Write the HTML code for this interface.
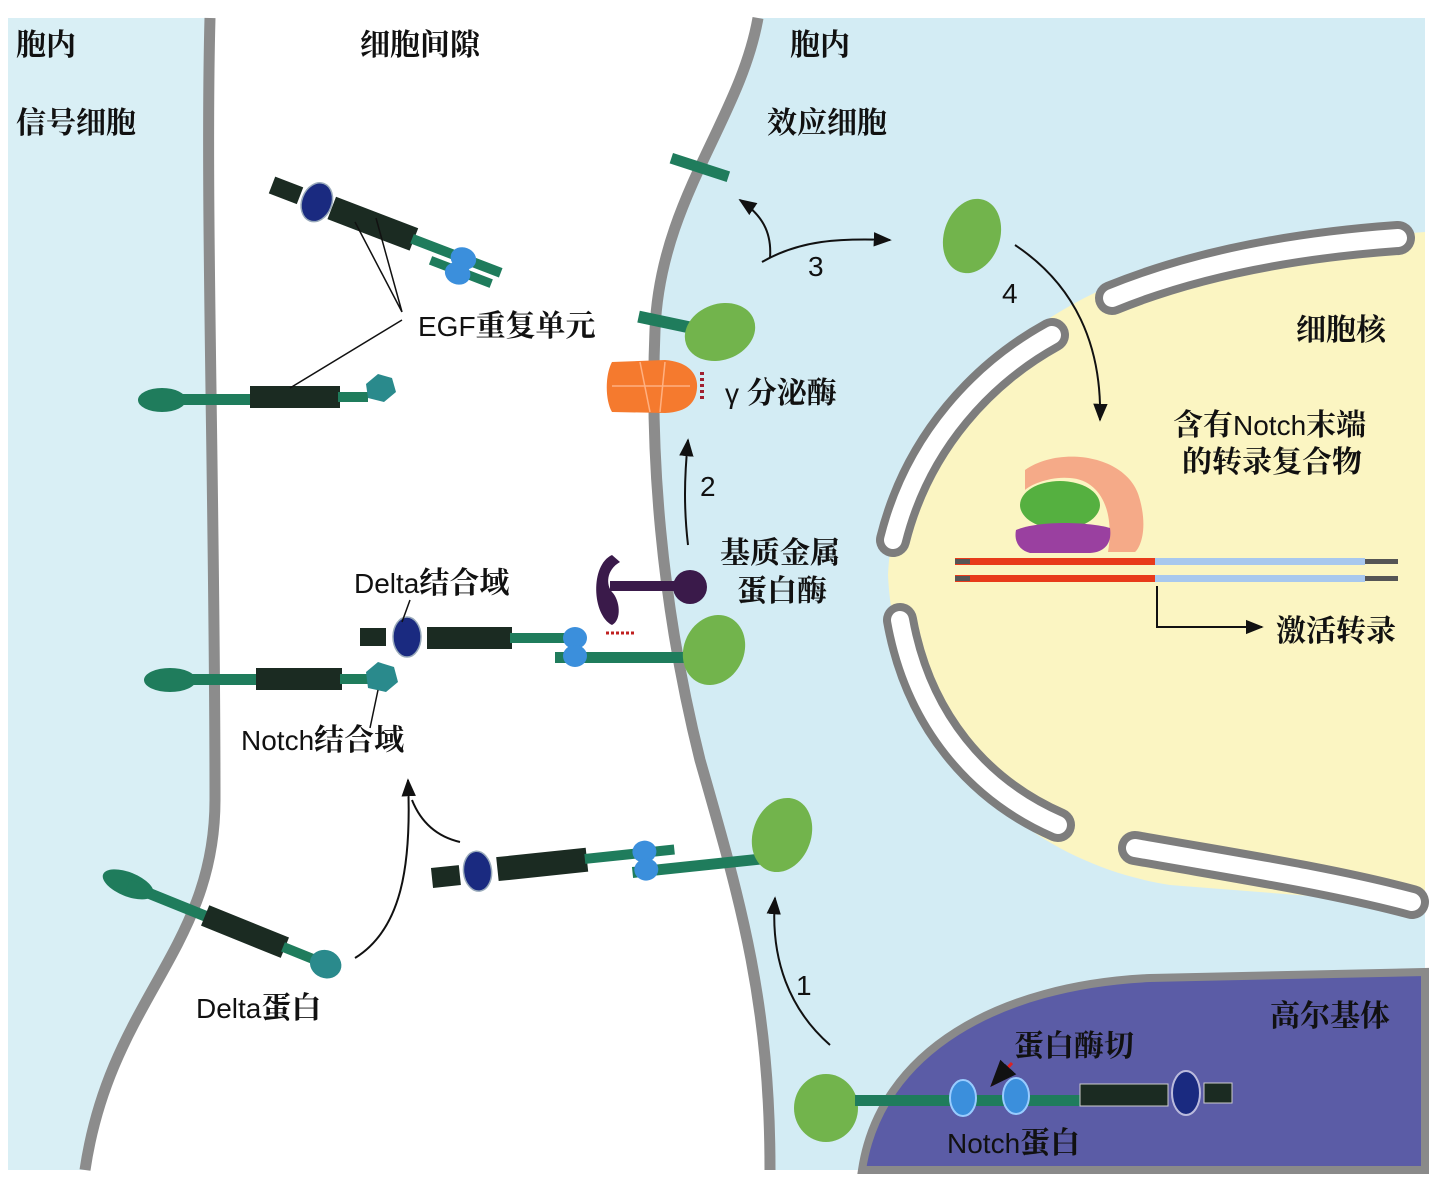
<!DOCTYPE html>
<html><head><meta charset="utf-8"><style>
body{margin:0;background:#fff}
svg{display:block}
text{font-family:"Liberation Sans","Noto Sans CJK SC",sans-serif;font-size:28px;fill:#111}
.cn{font-family:"Liberation Sans","Noto Serif CJK SC",serif;font-weight:bold;font-size:30px}
</style></head><body>
<svg width="1442" height="1201" viewBox="0 0 1442 1201">
<defs>
<marker id="ah" viewBox="0 0 10 10" refX="9" refY="5" markerWidth="9" markerHeight="9" orient="auto"><path d="M0,1 L10,5 L0,9 Z" fill="#111"/></marker>
</defs>
<path d="M8,18 L210,18 C205,200 215,500 215,800 C215,950 110,1000 85,1170 L8,1170 Z" fill="#d9eff5"/>
<path d="M758,18 C740,120 660,200 655,330 C650,450 660,600 700,760 C740,900 770,1000 770,1170 L1425,1170 L1425,18 Z" fill="#d3ecf4"/>
<path d="M1425,232 L1250,245 C1030,280 895,420 888,575 C895,730 1010,860 1170,885 L1425,905 Z" fill="#fbf5c2"/>
<path d="M862,1170 C880,1050 1000,985 1150,978 L1425,972 L1425,1170 Z" fill="#5b5ca6" stroke="#8a8a8a" stroke-width="8"/>
<path d="M210,18 C205,200 215,500 215,800 C215,950 110,1000 85,1170" fill="none" stroke="#8c8c8c" stroke-width="11"/>
<path d="M758,18 C740,120 660,200 655,330 C650,450 660,600 700,760 C740,900 770,1000 770,1170" fill="none" stroke="#8c8c8c" stroke-width="11"/>
<g fill="none" stroke-linecap="round">
<path d="M1112,298 C1200,262 1300,245 1398,238" stroke="#7d7d7d" stroke-width="34"/>
<path d="M1112,298 C1200,262 1300,245 1398,238" stroke="#fff" stroke-width="18"/>
<path d="M1052,335 C985,372 918,440 893,540" stroke="#7d7d7d" stroke-width="34"/>
<path d="M1052,335 C985,372 918,440 893,540" stroke="#fff" stroke-width="18"/>
<path d="M900,620 C918,720 978,790 1058,825" stroke="#7d7d7d" stroke-width="34"/>
<path d="M900,620 C918,720 978,790 1058,825" stroke="#fff" stroke-width="18"/>
<path d="M1135,848 C1230,865 1330,880 1412,902" stroke="#7d7d7d" stroke-width="34"/>
<path d="M1135,848 C1230,865 1330,880 1412,902" stroke="#fff" stroke-width="18"/>
</g>
<g transform="translate(272,185) rotate(21)">
<rect x="0" y="-9" width="30" height="18" fill="#1b2b22"/>
<ellipse cx="48" cy="0" rx="15" ry="20" fill="#1a2a80" stroke="#9ab" stroke-width="1.5"/>
<rect x="64" y="-12" width="88" height="24" fill="#1b2b22"/>
<rect x="150" y="-5" width="95" height="10" fill="#1f7c5c"/>
<rect x="175" y="9" width="65" height="9" fill="#1f7c5c"/>
<ellipse cx="205" cy="0" rx="13" ry="11" fill="#3b8fdc"/><ellipse cx="205" cy="16" rx="13" ry="11" fill="#3b8fdc"/>
</g>
<g>
<ellipse cx="162" cy="400" rx="24" ry="12" fill="#1f7c5c"/>
<rect x="160" y="394" width="95" height="11" fill="#1f7c5c"/>
<rect x="250" y="386" width="90" height="22" fill="#1b2b22"/>
<rect x="338" y="392" width="30" height="10" fill="#1f7c5c"/>
<polygon points="366,384 378,374 392,378 396,392 384,402 368,398" fill="#2a8a8c"/>
</g>
<g>
<ellipse cx="170" cy="680" rx="26" ry="12" fill="#1f7c5c"/>
<rect x="170" y="674" width="90" height="11" fill="#1f7c5c"/>
<rect x="256" y="668" width="86" height="22" fill="#1b2b22"/>
<rect x="340" y="674" width="30" height="10" fill="#1f7c5c"/>
<polygon points="366,672 378,662 394,667 398,682 386,692 368,688" fill="#2a8a8c"/>
</g>
<g>
<rect x="360" y="628" width="26" height="18" fill="#1b2b22"/>
<ellipse cx="407" cy="637" rx="14" ry="20" fill="#1a2a80" stroke="#9ab" stroke-width="1.5"/>
<rect x="427" y="627" width="85" height="22" fill="#1b2b22"/>
<rect x="510" y="633" width="70" height="10" fill="#1f7c5c"/>
<rect x="555" y="652" width="135" height="11" fill="#1f7c5c"/>
<ellipse cx="575" cy="638" rx="12" ry="11" fill="#3b8fdc"/><ellipse cx="575" cy="656" rx="12" ry="11" fill="#3b8fdc"/>
<ellipse cx="714" cy="650" rx="30" ry="36" transform="rotate(25 714 650)" fill="#72b44c"/>
</g>
<g transform="translate(105,875) rotate(22)">
<ellipse cx="25" cy="0" rx="27" ry="12" fill="#1f7c5c"/>
<rect x="25" y="-5" width="85" height="11" fill="#1f7c5c"/>
<rect x="108" y="-11" width="86" height="22" fill="#1b2b22"/>
<rect x="192" y="-5" width="35" height="10" fill="#1f7c5c"/>
<ellipse cx="238" cy="0" rx="16" ry="14" fill="#2a8a8c"/>
</g>
<g transform="translate(432,878) rotate(-6)">
<rect x="0" y="-10" width="28" height="20" fill="#1b2b22"/>
<ellipse cx="46" cy="-2" rx="14" ry="20" fill="#1a2a80" stroke="#9ab" stroke-width="1.5"/>
<rect x="66" y="-14" width="90" height="24" fill="#1b2b22"/>
<rect x="154" y="-8" width="90" height="10" fill="#1f7c5c"/>
<rect x="200" y="10" width="130" height="11" fill="#1f7c5c"/>
<ellipse cx="214" cy="-4" rx="12" ry="11" fill="#3b8fdc"/><ellipse cx="214" cy="14" rx="12" ry="11" fill="#3b8fdc"/>
</g>
<ellipse cx="782" cy="835" rx="29" ry="38" transform="rotate(20 782 835)" fill="#72b44c"/>
<g>
<ellipse cx="826" cy="1108" rx="32" ry="34" fill="#72b44c"/>
<rect x="855" y="1095" width="228" height="11" fill="#1f7c5c"/>
<ellipse cx="963" cy="1098" rx="13" ry="18" fill="#3b8fdc" stroke="#9cf" stroke-width="2"/>
<ellipse cx="1016" cy="1096" rx="13" ry="18" fill="#3b8fdc" stroke="#9cf" stroke-width="2"/>
<rect x="1080" y="1084" width="88" height="22" fill="#1b2b22" stroke="#ccc" stroke-width="1"/>
<ellipse cx="1186" cy="1093" rx="14" ry="22" fill="#1a2a80" stroke="#bbd" stroke-width="2"/>
<rect x="1204" y="1083" width="28" height="20" fill="#1b2b22" stroke="#ccc" stroke-width="1"/>
<path d="M1012,1063 L992,1085" stroke="#d22" stroke-width="3" marker-end="url(#ah)"/>
</g>
<rect x="670" y="162" width="60" height="11" fill="#1f7c5c" transform="rotate(18 700 167)"/>
<rect x="638" y="316" width="52" height="12" fill="#1f7c5c" transform="rotate(12 664 322)"/>
<ellipse cx="720" cy="332" rx="36" ry="28" transform="rotate(-20 720 332)" fill="#72b44c"/>
<ellipse cx="972" cy="236" rx="28" ry="38" transform="rotate(18 972 236)" fill="#72b44c"/>
<g>
<path d="M612,362 L665,360 C690,362 698,375 697,388 C696,402 688,412 665,413 L612,412 C605,400 605,375 612,362 Z" fill="#f57a2e"/>
<path d="M640,362 L650,412 M665,362 L660,412 M612,386 L690,386" stroke="#ffb080" stroke-width="1.5" fill="none"/>
<path d="M702,372 v30" stroke="#a02030" stroke-width="4" stroke-dasharray="3 3"/>
</g>
<g fill="#3a1a4a">
<path d="M612,555 C590,565 592,615 612,625 C622,620 620,600 612,592 C606,585 606,570 620,562 Z"/>
<rect x="610" y="581" width="75" height="10"/>
<circle cx="690" cy="587" r="17"/>
<path d="M606,633 h30" stroke="#c02020" stroke-width="3" stroke-dasharray="3 2"/>
</g>
<g>
<path d="M1025,470 C1060,445 1130,455 1140,500 C1148,530 1140,548 1135,552 L1108,552 C1115,510 1100,480 1070,478 C1050,476 1030,485 1025,490 Z" fill="#f5aa88"/>
<ellipse cx="1060" cy="505" rx="40" ry="24" fill="#55b040"/>
<path d="M1016,530 C1040,520 1090,522 1110,528 C1112,542 1106,552 1090,553 L1030,553 C1018,550 1014,540 1016,530 Z" fill="#9a40a0"/>
<rect x="955" y="558" width="200" height="7" fill="#e83a1a"/>
<rect x="955" y="575" width="200" height="7" fill="#e83a1a"/>
<rect x="1155" y="558" width="210" height="7" fill="#a8c8ee"/>
<rect x="1155" y="575" width="210" height="7" fill="#a8c8ee"/>
<rect x="1365" y="559" width="33" height="5" fill="#555"/><rect x="1365" y="576" width="33" height="5" fill="#555"/>
<rect x="955" y="559" width="15" height="5" fill="#555"/><rect x="955" y="576" width="15" height="5" fill="#555"/>
<path d="M1157,586 V627 H1262" fill="none" stroke="#111" stroke-width="2" marker-end="url(#ah)"/>
</g>
<g fill="none" stroke="#111" stroke-width="2">
<path d="M830,1045 C790,1010 770,960 775,898" marker-end="url(#ah)"/>
<path d="M688,545 C684,510 684,480 688,440" marker-end="url(#ah)"/>
<path d="M762,262 C800,240 840,238 890,240" marker-end="url(#ah)"/>
<path d="M770,258 C772,232 762,215 740,200" marker-end="url(#ah)"/>
<path d="M1015,245 C1075,285 1102,345 1100,420" marker-end="url(#ah)"/>
<path d="M355,958 C400,930 412,870 408,780" marker-end="url(#ah)"/>
<path d="M460,842 C430,835 418,815 412,800"/>
<path d="M402,312 L355,222 M402,312 L376,218 M402,320 L290,388 M410,600 L402,622 M370,728 L378,690" stroke-width="1.5"/>
</g>
<g>
<text class="cn" x="16" y="55">胞内</text>
<text class="cn" x="16" y="133">信号细胞</text>
<text class="cn" x="360" y="55">细胞间隙</text>
<text class="cn" x="790" y="55">胞内</text>
<text class="cn" x="767" y="133">效应细胞</text>
<text x="418" y="336">EGF<tspan class="cn">重复单元</tspan></text>
<text x="725" y="403">γ <tspan class="cn">分泌酶</tspan></text>
<text x="700" y="496">2</text>
<text x="808" y="276">3</text>
<text x="1002" y="303">4</text>
<text x="796" y="995">1</text>
<text class="cn" x="720" y="563">基质金属</text>
<text class="cn" x="737" y="601">蛋白酶</text>
<text x="354" y="593">Delta<tspan class="cn">结合域</tspan></text>
<text x="241" y="750">Notch<tspan class="cn">结合域</tspan></text>
<text x="196" y="1018">Delta<tspan class="cn">蛋白</tspan></text>
<text class="cn" x="1296" y="340">细胞核</text>
<text x="1173" y="435"><tspan class="cn">含有</tspan>Notch<tspan class="cn">末端</tspan></text>
<text class="cn" x="1182" y="472">的转录复合物</text>
<text class="cn" x="1276" y="641">激活转录</text>
<text class="cn" x="1270" y="1026">高尔基体</text>
<text class="cn" x="1014" y="1056">蛋白酶切</text>
<text x="947" y="1153">Notch<tspan class="cn">蛋白</tspan></text>
</g>
</svg>
</body></html>
